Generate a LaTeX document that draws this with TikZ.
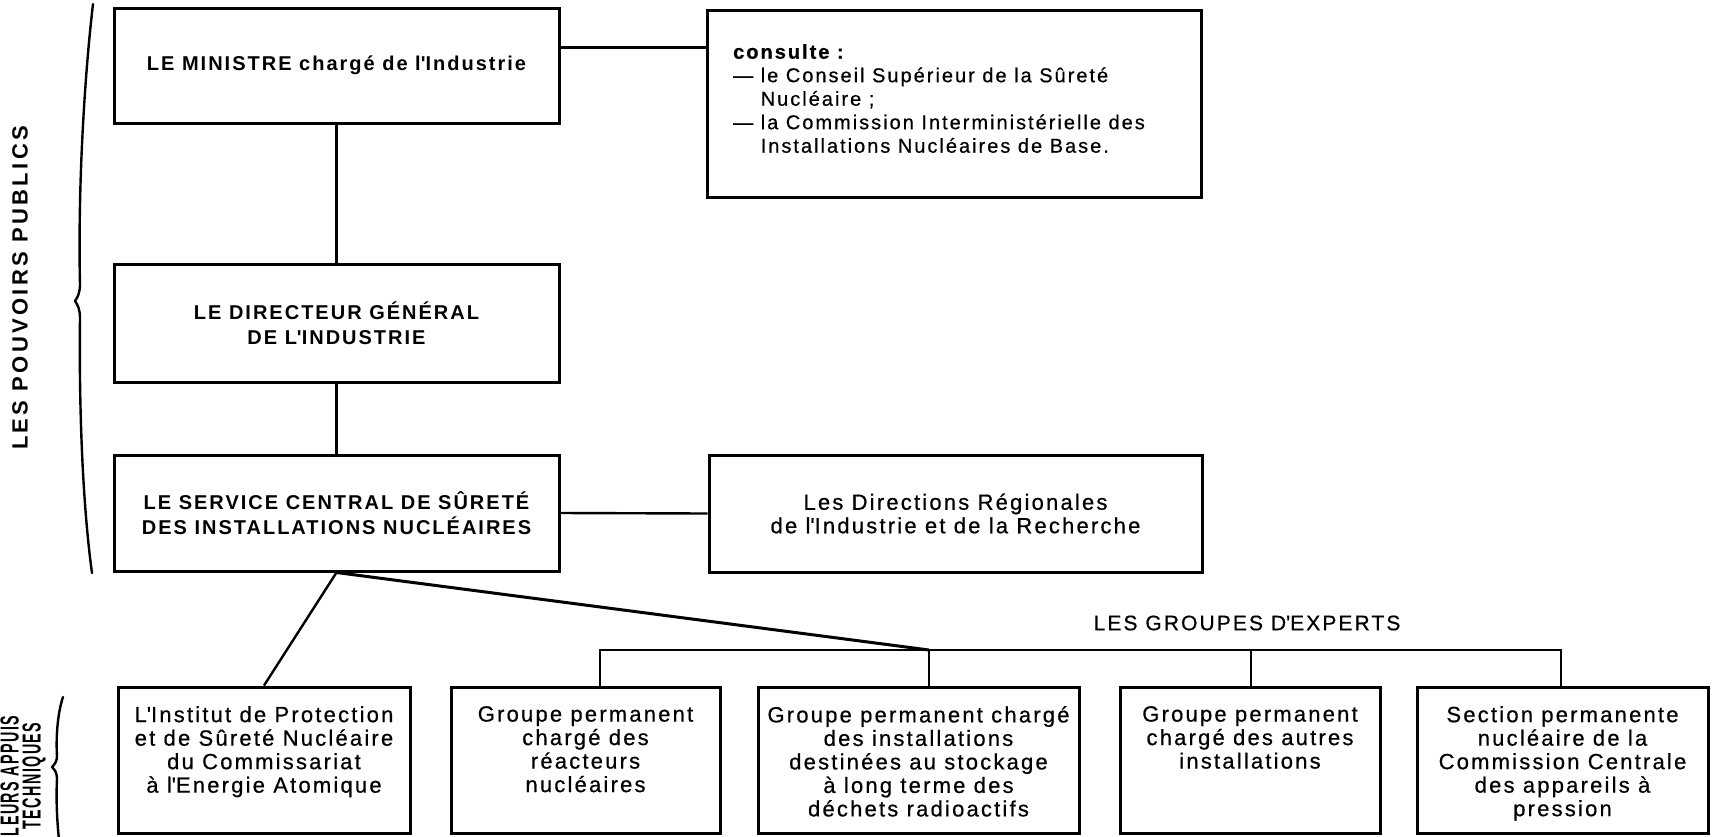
\documentclass[tikz,border=0pt]{standalone}
\usepackage{fontspec}
\setmainfont{Liberation Sans}[LetterSpace=10]
\begin{document}
\begin{tikzpicture}[x=1pt,y=-1pt,
  box/.style={draw, line width=3pt, inner sep=0pt},
  link/.style={line width=2.4pt},
  txt/.style={font=\fontsize{22}{23.5}\selectfont\addfontfeature{FakeBold=0.6},
    align=center, inner sep=0pt},
  ctxt/.style={font=\fontsize{20}{23.5}\selectfont\addfontfeature{FakeBold=0.6},
    align=left, inner sep=0pt},
  hd/.style={font=\bfseries\fontsize{20}{25}\selectfont, align=center, inner sep=0pt},
  lab/.style={font=\bfseries\fontsize{22}{22}\selectfont\addfontfeature{LetterSpace=15},
    align=center, inner sep=0pt},
  brace/.style={line width=2.4pt, line cap=round, line join=round}]
\fill[white] (0,0) rectangle (1719,836);
\useasboundingbox (0,0) rectangle (1719,836);

% --- public authorities ---
\node[box, hd, minimum width=445pt, minimum height=115pt] (min) at (336.5,65.5)
  {LE MINISTRE chargé de l\textquotesingle Industrie};
\node[box, minimum width=494pt, minimum height=187pt] (cons) at (954,103.5) {};
\node[ctxt, anchor=north west] (cons-t) at (733,44)
  {\textbf{consulte :}\\
   — le Conseil Supérieur de la Sûreté\\
   \hphantom{— }Nucléaire ;\\
   — la Commission Interministérielle des\\
   \hphantom{— }Installations Nucléaires de Base.};
\node[box, hd, minimum width=445pt, minimum height=118pt] (dg) at (336.5,323)
  {LE DIRECTEUR GÉNÉRAL\\DE L\textquotesingle INDUSTRIE};
\node[box, hd, minimum width=445pt, minimum height=116pt] (scsn) at (336.5,513)
  {LE SERVICE CENTRAL DE SÛRETÉ\\DES INSTALLATIONS NUCLÉAIRES};
\node[box, txt, minimum width=493pt, minimum height=117pt] (dir) at (955.5,513.5)
  {Les Directions Régionales\\de l\textquotesingle Industrie et de la Recherche};

% --- technical support ---
\node[box, minimum width=292pt, minimum height=146pt] (ipsn) at (264,760) {};
\node[box, minimum width=269pt, minimum height=146pt] (reac) at (585.5,760) {};
\node[box, minimum width=321pt, minimum height=146pt] (stock) at (918.5,760) {};
\node[box, minimum width=260pt, minimum height=146pt] (autres) at (1250,760) {};
\node[box, minimum width=291pt, minimum height=146pt] (sect) at (1562.5,760) {};

\node[txt, anchor=north] (ipsn-t) at (264,706)
  {L\textquotesingle Institut de Protection\\et de Sûreté Nucléaire\\du Commissariat\\à l\textquotesingle Energie Atomique};
\node[txt, anchor=north] (reac-t) at (585.5,706)
  {Groupe permanent\\chargé des\\réacteurs\\nucléaires};
\node[txt, anchor=north] (stock-t) at (918.5,706)
  {Groupe permanent chargé\\des installations\\destinées au stockage\\à long terme des\\déchets radioactifs};
\node[txt, anchor=north] (autres-t) at (1250,706)
  {Groupe permanent\\chargé des autres\\installations};
\node[txt, anchor=north] (sect-t) at (1562.5,706)
  {Section permanente\\nucléaire de la\\Commission Centrale\\des appareils à\\pression};

\node[txt, font=\fontsize{21}{23}\selectfont\addfontfeature{FakeBold=0.6}] (grp)
  at (1247,623) {LES GROUPES D\textquotesingle EXPERTS};

% --- connectors ---
\draw[link] ([yshift=-41pt]min.north east) -- ([yshift=-39pt]cons.north west);
\draw[link] (min.south) -- (dg.north);
\draw[link] (dg.south) -- (scsn.north);
\draw[link] (scsn.east) -- (dir.west);

\coordinate (j1) at (600,650);
\coordinate (j2) at (929,650);
\coordinate (j3) at (1251,650);
\coordinate (j4) at (1561,650);
\draw[link] (reac.north -| j1) -- (j1) -- (j4) -- (sect.north -| j4);
\draw[link] (j2) -- (stock.north -| j2);
\draw[link] (j3) -- (autres.north -| j3);
\draw[link] (scsn.south) -- (ipsn.north);
\draw[link, line width=3pt] (scsn.south) -- (j2);

% --- side labels and braces ---
\node[lab, rotate=90] (lpp) at (20,288) {LES POUVOIRS PUBLICS};
\node[lab, font=\bfseries\fontsize{26}{22}\selectfont, rotate=90] (lat) at (23,776)
  {\scalebox{0.55}[1]{LEURS APPUIS}\\\scalebox{0.55}[1]{TECHNIQUES}};

\draw[brace] (93,4) .. controls (83,90) and (78,200) .. (80,284)
  .. controls (80,292) and (78,297) .. (75,301)
  .. controls (78,305) and (80,310) .. (80,318)
  .. controls (79,400) and (82,500) .. (92,573);
\draw[brace] (63,697) .. controls (57,715) and (56,740) .. (57,756)
  .. controls (57,761) and (55,764) .. (52,767)
  .. controls (55,770) and (57,773) .. (57,779)
  .. controls (56,800) and (57,820) .. (59,840);
\end{tikzpicture}
\end{document}
